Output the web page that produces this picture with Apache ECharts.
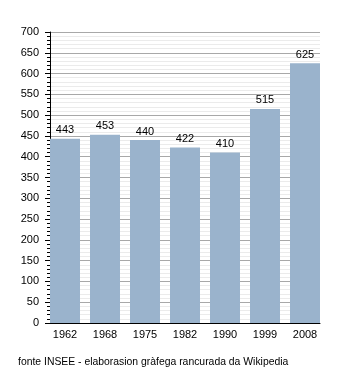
<!DOCTYPE html>
<html><head><meta charset="utf-8">
<script src="https://cdn.jsdelivr.net/npm/echarts@6/dist/echarts.min.js"></script>
<style>html,body{margin:0;padding:0;background:#fff}#c{width:350px;height:373px}</style>
</head><body><div id="c"></div>
<script>
const categories = ['1962','1968','1975','1982','1990','1999','2008'];
const population = [443, 453, 440, 422, 410, 515, 625];
const yTicks = {min: 0, max: 700, step: 50};
const footer = 'fonte INSEE - elaborasion gràfega rancurada da Wikipedia';

const FF = 'Liberation Sans, Arial, sans-serif';
const chart = echarts.init(document.getElementById('c'), null, {renderer:'canvas'});
chart.setOption({
  animation: false,
  backgroundColor: '#fff',
  textStyle: {fontFamily: FF},
  grid: [
    {left: 50, right: 30, top: 32, bottom: 50, containLabel: false},
    {left: 45, right: 25, top: 32, bottom: 50, containLabel: false}
  ],
  graphic: [{
    type: 'text', left: 18, top: 357,
    style: {text: footer, fontSize: 10.4, fill: '#000', fontFamily: FF}
  }],
  xAxis: [{
    gridIndex: 0, type: 'category', data: categories,
    axisLine: {lineStyle: {color: '#000', width: 1}},
    axisTick: {show: false},
    axisLabel: {show: false}
  }, {
    gridIndex: 1, type: 'category', data: categories,
    axisLine: {show: false},
    axisTick: {show: false},
    axisLabel: {color: '#000', fontSize: 11, margin: 6}
  }],
  yAxis: [{
    gridIndex: 0, type: 'value', min: yTicks.min, max: yTicks.max, interval: yTicks.step,
    axisLine: {show: true, lineStyle: {color: '#000'}},
    axisTick: {show: true, inside: false, length: 5, lineStyle: {color: '#000'}},
    minorTick: {show: true, splitNumber: 5, length: 3, lineStyle: {color: '#000'}},
    axisLabel: {color: '#000', fontSize: 11, margin: 11},
    splitLine: {show: true, lineStyle: {color: '#a8a8a8', width: 1}},
    minorSplitLine: {show: true, lineStyle: {color: '#ebebeb', width: 1}}
  }, {
    gridIndex: 1, type: 'value', min: yTicks.min, max: yTicks.max, interval: yTicks.step,
    show: false, splitLine: {show: false}
  }],
  series: [{
    type: 'bar', data: population, xAxisIndex: 1, yAxisIndex: 1,
    barWidth: 30,
    itemStyle: {color: '#9ab3cc'},
    label: {show: true, position: 'top', color: '#000', fontSize: 11, distance: 3}
  }]
});
</script></body></html>
